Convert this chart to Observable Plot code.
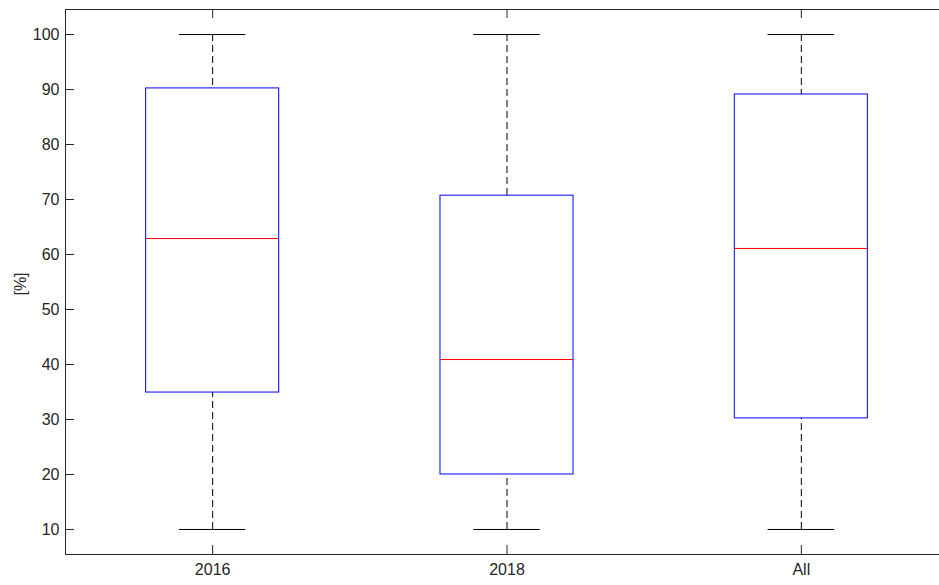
<!DOCTYPE html>
<html>
<head>
<meta charset="utf-8">
<script src="https://cdn.jsdelivr.net/npm/d3@7"></script>
<script src="https://cdn.jsdelivr.net/npm/@observablehq/plot@0.6"></script>
<style>
  html, body { margin: 0; padding: 0; background: #fff; }
  svg { overflow: hidden; }
</style>
</head>
<body>
<div id="chart"></div>
<script>
const categories = ["2016", "2018", "All"];
const lowerWhisker = [10, 10, 10];
const q1 = [34.9, 20, 30.2];
const median = [62.9, 40.9, 61.1];
const q3 = [90.2, 70.7, 89.1];
const upperWhisker = [100, 100, 100];
const yTicks = [10, 20, 30, 40, 50, 60, 70, 80, 90, 100];
const yDomain = [5.45, 104.55];
const xDomain = [0.5, 3.5];
const yLabel = "[%]";

const rows = categories.map((c, k) => ({
  pos: k + 1, cat: c, lo: lowerWhisker[k], q1: q1[k], med: median[k], q3: q3[k], hi: upperWhisker[k]
}));

const boxHalf = 0.226;
const capHalf = 0.113;
const axisColor = "#262626";
const tickLenX = 9 / 294.33;   // inward tick length in x units
const tickLenY = 9 / 5.5;      // inward tick length in y units

const chart = Plot.plot({
  width: 939,
  height: 585,
  marginLeft: 65,
  marginRight: 0,
  marginTop: 9,
  marginBottom: 31,
  style: { fontFamily: "'Liberation Sans', Arial, sans-serif", fontSize: "16px", color: axisColor, background: "#fff" },
  x: { type: "linear", domain: xDomain, range: [65, 948], axis: null },
  y: { domain: yDomain, range: [554, 9], axis: null },
  marks: [
    // whiskers (dashed)
    Plot.ruleX(rows, { x: "pos", y1: "hi", y2: "q3", stroke: "black", strokeDasharray: "7,4", strokeWidth: 1 }),
    Plot.ruleX(rows, { x: "pos", y1: "lo", y2: "q1", stroke: "black", strokeDasharray: "7,4", strokeWidth: 1 }),
    // caps
    Plot.ruleY(rows, { y: "hi", x1: d => d.pos - capHalf, x2: d => d.pos + capHalf, stroke: "black" }),
    Plot.ruleY(rows, { y: "lo", x1: d => d.pos - capHalf, x2: d => d.pos + capHalf, stroke: "black" }),
    // boxes
    Plot.rect(rows, { x1: d => d.pos - boxHalf, x2: d => d.pos + boxHalf, y1: "q1", y2: "q3", fill: "none", stroke: "#0000ff", strokeWidth: 1 }),
    // medians
    Plot.ruleY(rows, { y: "med", x1: d => d.pos - boxHalf, x2: d => d.pos + boxHalf, stroke: "#ff0000", strokeWidth: 1 }),
    // axes lines (left, top, bottom)
    Plot.ruleX([xDomain[0]], { x: d => d, y1: yDomain[0], y2: yDomain[1], stroke: axisColor }),
    Plot.ruleY([yDomain[0], yDomain[1]], { y: d => d, x1: xDomain[0], x2: xDomain[1], stroke: axisColor }),
    // inward ticks
    Plot.ruleY(yTicks, { y: d => d, x1: xDomain[0], x2: xDomain[0] + tickLenX, stroke: axisColor }),
    Plot.ruleX(rows, { x: "pos", y1: yDomain[0], y2: yDomain[0] + tickLenY, stroke: axisColor }),
    Plot.ruleX(rows, { x: "pos", y1: yDomain[1], y2: yDomain[1] - tickLenY, stroke: axisColor }),
    // tick labels
    Plot.axisY(yTicks, { tickSize: 0, tickPadding: 6, fontSize: 16, fill: axisColor, label: null }),
    Plot.axisX(rows.map(d => d.pos), { tickSize: 0, tickPadding: 9, fontSize: 16, fill: axisColor, tickFormat: d => categories[d - 1], label: null }),
    // y label
    Plot.text([yLabel], { text: d => d, frameAnchor: "left", dx: -45, dy: 2, rotate: -90, textAnchor: "middle", lineAnchor: "middle", fontSize: 16, fill: axisColor })
  ]
});
document.getElementById("chart").appendChild(chart);
</script>
</body>
</html>
